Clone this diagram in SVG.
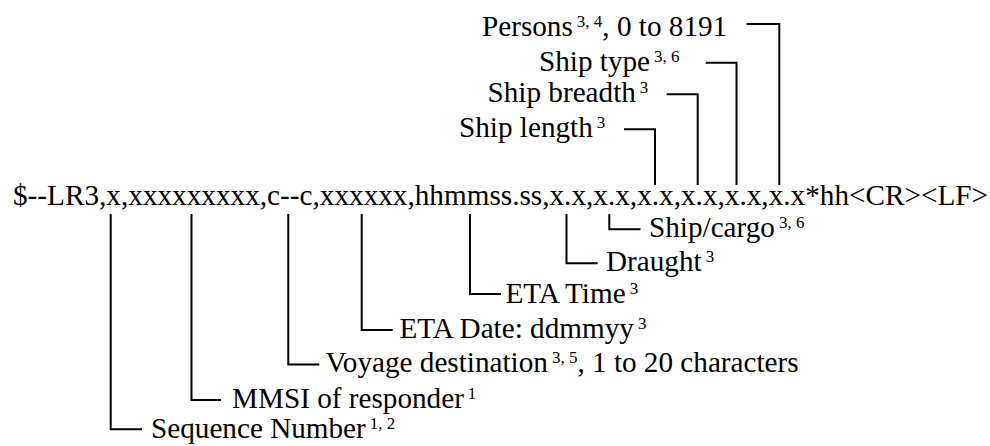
<svg xmlns="http://www.w3.org/2000/svg" width="990" height="446" viewBox="0 0 990 446">
<style>
text{font-family:"Liberation Serif","Times New Roman",serif;font-size:29.2px;fill:#000}
.sup{font-size:17px}
.c path{fill:none;stroke:#000;stroke-width:2;stroke-linejoin:miter;stroke-linecap:square}
</style>
<rect width="990" height="446" fill="#fff"/>
<g id="sentence"><text x="13" y="205" textLength="975" lengthAdjust="spacing">$--LR3,x,xxxxxxxxx,c--c,xxxxxx,hhmmss.ss,x.x,x.x,x.x,x.x,x.x,x.x*hh&lt;CR&gt;&lt;LF&gt;</text></g>
<g class="c" id="connectors">
<path d="M625,129.3H655V184"/>
<path d="M667.7,94.3H697.7V184"/>
<path d="M706.7,62.7H736.5V184"/>
<path d="M747.5,24H779.3V184"/>
<path d="M110.7,215V429.3H141"/>
<path d="M191.5,215V400H220"/>
<path d="M288.3,215V364.5H318.3"/>
<path d="M361.7,215V330H391.7"/>
<path d="M470,215V294H500"/>
<path d="M566.5,215V263.3H596.7"/>
<path d="M609.3,215V229.3H639.5"/>
</g>
<g id="persons"><text x="482" y="35.7">Persons<tspan class="sup" dx="4" dy="-9">3, 4</tspan><tspan dy="9">, 0 to 8191</tspan></text></g>
<g id="ship-type"><text x="539" y="70.5">Ship type<tspan class="sup" dx="4" dy="-9">3, 6</tspan></text></g>
<g id="ship-breadth"><text x="487.5" y="101.7">Ship breadth<tspan class="sup" dx="4" dy="-9">3</tspan></text></g>
<g id="ship-length"><text x="459" y="136.7">Ship length<tspan class="sup" dx="4" dy="-9">3</tspan></text></g>
<g id="ship-cargo"><text x="649" y="236.7">Ship/cargo<tspan class="sup" dx="4" dy="-9">3, 6</tspan></text></g>
<g id="draught"><text x="606" y="271">Draught<tspan class="sup" dx="4" dy="-9">3</tspan></text></g>
<g id="eta-time"><text x="505.5" y="303.3">ETA Time<tspan class="sup" dx="4" dy="-9">3</tspan></text></g>
<g id="eta-date"><text x="399.5" y="338.3">ETA Date: ddmmyy<tspan class="sup" dx="4" dy="-9">3</tspan></text></g>
<g id="voyage"><text x="325.5" y="371.7">Voyage destination<tspan class="sup" dx="4" dy="-9">3, 5</tspan><tspan dy="9">, 1 to 20 characters</tspan></text></g>
<g id="mmsi"><text x="232" y="408.3">MMSI of responder<tspan class="sup" dx="4" dy="-9">1</tspan></text></g>
<g id="sequence"><text x="151" y="438.3">Sequence Number<tspan class="sup" dx="4" dy="-9">1, 2</tspan></text></g>
</svg>
